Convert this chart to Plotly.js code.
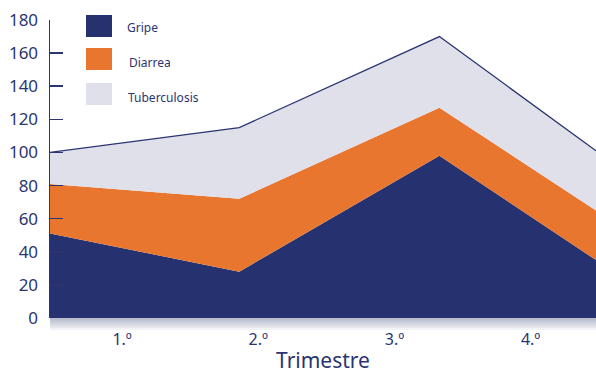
<!DOCTYPE html>
<html><head><meta charset="utf-8">
<script src="https://cdn.plot.ly/plotly-3.0.1.min.js"></script>
<style>html,body{margin:0;padding:0;background:#fff}#chart{width:596px;height:375px}</style>
</head><body><div id="chart"></div>
<script>
// Data
const quarterLabels = ['1.º', '2.º', '3.º', '4.º'];
const quarterTicks = [1, 2, 3, 4];
const pointX = [0.47, 1.86, 3.33, 4.48];   // where the area vertices sit on the quarter scale
const gripe = [51, 28, 98, 35];
const diarrea = [30, 44, 29, 30];
const tuberculosis = [19, 43, 43, 36];
const seriesNames = ['Gripe', 'Diarrea', 'Tuberculosis'];
const seriesColors = ['#25326f', '#e8762f', '#dfe0e9'];
const xTitle = 'Trimestre';

const navy = '#2b3571';
const font = 'Noto Sans, Open Sans, sans-serif';

const values = [gripe, diarrea, tuberculosis];
const traces = values.map((v, i) => ({
  type: 'scatter', mode: 'lines', x: pointX, y: v, name: seriesNames[i],
  stackgroup: 'one', fillcolor: seriesColors[i],
  line: {width: i === 2 ? 1.3 : 0, color: i === 2 ? navy : seriesColors[i]},
  hoverinfo: 'skip'
}));

const shapes = [];
const annotations = [];

// soft shadow beneath the baseline
for (let k = 0; k < 6; k++) {
  shapes.push({type: 'rect', xref: 'paper', yref: 'paper', layer: 'below',
    x0: 0, x1: 1, y0: -(2 + k * 2) / 298, y1: 0,
    fillcolor: 'rgba(40,50,110,0.06)', line: {width: 0}});
}

// Legend drawn as swatches + text (paper coordinates)
const legY = [26, 59, 94];
const legTextY = [27, 62, 97];
const textX = [125, 127, 126];
seriesNames.forEach((n, i) => {
  shapes.push({type: 'rect', xref: 'paper', yref: 'paper',
    x0: (86 - 50) / 546, x1: (112 - 50) / 546,
    y0: (318 - legY[i] + 11) / 298, y1: (318 - legY[i] - 11) / 298,
    fillcolor: seriesColors[i], line: {width: 0}});
  annotations.push({xref: 'paper', yref: 'paper', x: (textX[i] - 50) / 546, y: (318 - legTextY[i]) / 298,
    text: n, showarrow: false, xanchor: 'left', yanchor: 'middle',
    font: {family: font, size: 12, color: navy}});
});

// x-axis title
annotations.push({xref: 'paper', yref: 'paper', x: 0.5, y: -(360 - 318) / 298,
  text: xTitle, showarrow: false, xanchor: 'center', yanchor: 'middle', borderpad: 0,
  font: {family: font, size: 21, color: navy}});

const layout = {
  width: 596, height: 375,
  margin: {l: 50, r: 0, t: 20, b: 57},
  paper_bgcolor: '#fff', plot_bgcolor: '#fff',
  showlegend: false,
  xaxis: {
    range: [pointX[0], pointX[pointX.length - 1]],
    tickvals: quarterTicks, ticktext: quarterLabels,
    showgrid: false, zeroline: false, showline: false, ticks: '',
    ticklabelstandoff: 10,
    tickfont: {family: font, size: 16, color: navy}
  },
  yaxis: {
    range: [0, 180], dtick: 20, tick0: 0,
    showgrid: false, zeroline: false,
    showline: true, linecolor: navy, linewidth: 1.5,
    ticks: 'inside', ticklen: 13, tickwidth: 1.5, tickcolor: navy,
    ticklabelstandoff: 7,
    tickfont: {family: font, size: 17, color: navy}
  },
  shapes: shapes,
  annotations: annotations
};

Plotly.newPlot('chart', traces, layout, {displayModeBar: false, staticPlot: true});
</script>
</body></html>
